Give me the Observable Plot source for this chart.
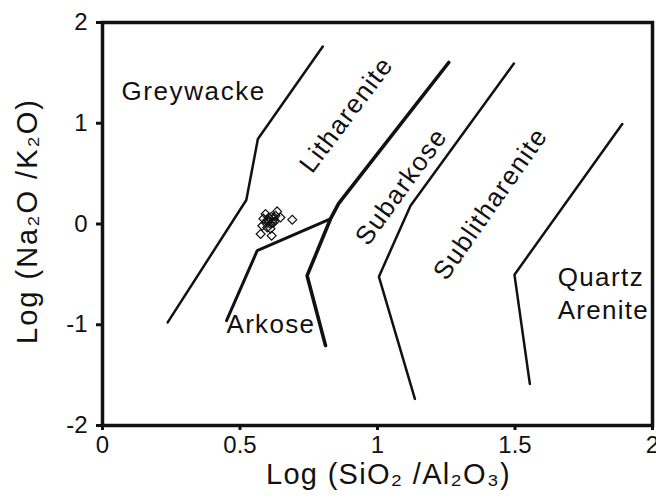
<!DOCTYPE html>
<html>
<head>
<meta charset="utf-8">
<script src="https://cdn.jsdelivr.net/npm/d3@7"></script>
<script src="https://cdn.jsdelivr.net/npm/@observablehq/plot@0.6"></script>
<style>
  html, body { margin: 0; padding: 0; background: #fff; overflow: hidden; }
</style>
</head>
<body>
<div id="chart"></div>
<script>
// Axis ticks
const xTicks = [0, 0.5, 1, 1.5, 2];
const xTickLabels = ["0", "0.5", "1", "1.5", "2"];
const yTicks = [-2, -1, 0, 1, 2];
const yTickLabels = ["-2", "-1", "0", "1", "2"];
const xLabel = "Log (SiO₂ /Al₂O₃)";
const yLabel = "Log (Na₂O /K₂O)";

// Classification boundaries (Log SiO2/Al2O3, Log Na2O/K2O)
const greywackeX = [0.801, 0.565, 0.523, 0.237];
const greywackeY = [1.762, 0.843, 0.238, -0.976];
const arkoseX = [0.451, 0.5625, 0.829];
const arkoseY = [-0.959, -0.265, 0.05];
const subarkoseX = [1.259, 0.859, 0.829, 0.744, 0.811];
const subarkoseY = [1.603, 0.204, 0.05, -0.513, -1.207];
const sublithX = [1.496, 1.12, 1.005, 1.136];
const sublithY = [1.593, 0.182, -0.523, -1.736];
const quartzX = [1.89, 1.498, 1.554];
const quartzY = [0.992, -0.503, -1.587];

// Samples
const sampleX = [0.593, 0.635, 0.647, 0.690, 0.581, 0.575, 0.615, 0.605, 0.623, 0.599, 0.611, 0.593, 0.629, 0.604, 0.618, 0.585, 0.611, 0.625, 0.600, 0.614];
const sampleY = [0.099, 0.125, 0.065, 0.043, -0.017, -0.099, -0.116, 0.033, 0.050, -0.034, 0.000, 0.016, 0.082, 0.062, 0.013, 0.053, -0.047, 0.023, 0.040, 0.072];

// Field names
const flatNames = ["Greywacke", "Arkose", "Quartz", "Arenite"];
const flatX = [0.069, 0.451, 1.655, 1.655];
const flatY = [1.315, -0.995, -0.53, -0.857];
const tiltNames = ["Litharenite", "Subarkose", "Sublitharenite"];
const tiltX = [0.887, 1.087, 1.411];
const tiltY = [1.084, 0.37, 0.2];
const tiltAngle = [-53, -54, -55];

const toPts = (xs, ys) => xs.map((x, i) => ({x, y: ys[i]}));
const boundaries = [
  {pts: toPts(greywackeX, greywackeY), w: 2.5},
  {pts: toPts(arkoseX, arkoseY), w: 3},
  {pts: toPts(subarkoseX, subarkoseY), w: 3.6},
  {pts: toPts(sublithX, sublithY), w: 2.5},
  {pts: toPts(quartzX, quartzY), w: 2.5}
];
const samples = toPts(sampleX, sampleY);
const flat = flatNames.map((n, i) => ({n, x: flatX[i], y: flatY[i]}));
const tilt = tiltNames.map((n, i) => ({n, x: tiltX[i], y: tiltY[i], r: tiltAngle[i]}));
const xFmt = new Map(xTicks.map((t, i) => [t, xTickLabels[i]]));
const yFmt = new Map(yTicks.map((t, i) => [t, yTickLabels[i]]));
const ink = "#111";

const plot = Plot.plot({
  width: 656,
  height: 503,
  marginLeft: 102,
  marginRight: 4,
  marginTop: 22,
  marginBottom: 78,
  style: {fontFamily: '"Liberation Sans", Arial, sans-serif', background: "#fff", color: ink, overflow: "visible"},
  x: {domain: [0, 2]},
  y: {domain: [-2, 2]},
  marks: [
    Plot.axisX(xTicks, {tickSize: 5, tickPadding: 5, fontSize: 24, strokeWidth: 3, tickFormat: d => xFmt.get(d), label: null}),
    Plot.axisY(yTicks, {tickSize: 6, tickPadding: 9, fontSize: 24, strokeWidth: 3, tickFormat: d => yFmt.get(d), label: null}),
    ...boundaries.map(b => Plot.line(b.pts, {x: "x", y: "y", stroke: ink, strokeWidth: b.w, strokeLinejoin: "miter"})),
    Plot.dot(samples, {x: "x", y: "y", symbol: "diamond2", r: 4, stroke: ink, strokeWidth: 1.2, fill: "none"}),
    Plot.text(flat, {x: "x", y: "y", text: "n", textAnchor: "start", fontSize: 26, fill: ink}),
    Plot.text(tilt, {x: "x", y: "y", text: "n", rotate: "r", textAnchor: "middle", fontSize: 26, fill: ink}),
    Plot.text([xLabel], {frameAnchor: "bottom", textAnchor: "middle", dy: 58, dx: 11, fontSize: 29, fill: ink}),
    Plot.text([yLabel], {frameAnchor: "left", textAnchor: "middle", rotate: -90, dx: -75, dy: -3, fontSize: 29, fill: ink}),
    Plot.frame({stroke: ink, strokeWidth: 3.5})
  ]
});

const spacing = new Map([
  ["Greywacke", 1.6], ["Arkose", 1.3], ["Quartz", 1.4], ["Arenite", 1.3],
  ["Litharenite", 1.4], ["Subarkose", 1.4], ["Sublitharenite", 1.4],
  [xLabel, 1.3], [yLabel, 2.0]
]);
d3.select(plot).selectAll("text").each(function() {
  const s = spacing.get(this.textContent);
  if (s != null) this.style.letterSpacing = s + "px";
});

document.getElementById("chart").appendChild(plot);
</script>
</body>
</html>
